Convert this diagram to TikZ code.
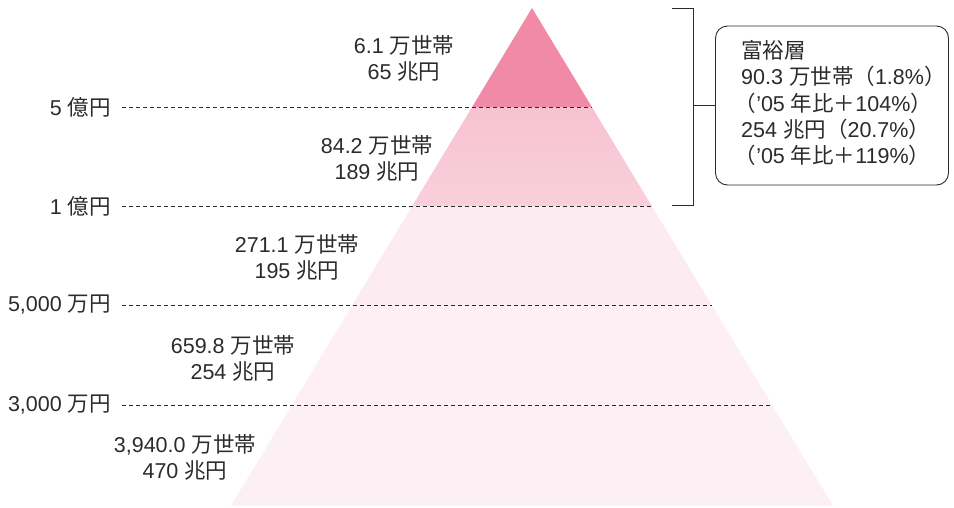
\documentclass[tikz,border=0pt]{standalone}
\usepackage{fontspec}
\setmainfont{Liberation Sans}
\newfontfamily\jp{Noto Sans CJK JP}
\definecolor{txt}{HTML}{2B2B2B}
\definecolor{pkA}{HTML}{F08AA6}
\definecolor{pkBt}{HTML}{F7C2D1}
\definecolor{pkBb}{HTML}{F9CFDB}
\definecolor{pkC}{HTML}{FCEBF0}
\definecolor{pkD}{HTML}{FDEFF3}
\definecolor{pkE}{HTML}{FDF0F4}
\begin{document}
\begin{tikzpicture}[x=1pt,y=-1pt,
  lbl/.style={font=\fontsize{21.5}{26}\selectfont, text=txt, align=center, inner sep=0pt},
  axislbl/.style={font=\fontsize{21.5}{26}\selectfont, text=txt, anchor=east, inner sep=0pt},
  guide/.style={draw=txt, line width=0.8pt, dash pattern=on 4pt off 3pt},
  bracketline/.style={draw=txt, line width=0.9pt},
  infobox/.style={draw=txt, line width=0.9pt, rounded corners=12pt, fill=white,
    minimum width=233pt, minimum height=159pt, inner sep=0pt},
  infotext/.style={font=\fontsize{21.5}{26.3}\selectfont, text=txt, align=left,
    anchor=west, inner sep=0pt}
]
\useasboundingbox (0,0) rectangle (954,507);
% pyramid geometry
\coordinate (apex) at (532,8);
\foreach \n/\yy in {a/107,b/206,c/305,d/405,e/506}{
  \coordinate (L\n) at ({532-0.605*(\yy-8)},\yy);
  \coordinate (R\n) at ({532+0.605*(\yy-8)},\yy);
}
\fill[pkA] (apex) -- (Ra) -- (La) -- cycle;
\shade[top color=pkBt, bottom color=pkBb] (La) -- (Ra) -- (Rb) -- (Lb) -- cycle;
\fill[pkC] (Lb) -- (Rb) -- (Rc) -- (Lc) -- cycle;
\fill[pkD] (Lc) -- (Rc) -- (Rd) -- (Ld) -- cycle;
\fill[pkE] (Ld) -- (Rd) -- (Re) -- (Le) -- cycle;

% axis labels and guides
\node[axislbl] (y5oku) at (111,107) {5 {\jp 億円}};
\node[axislbl] (y1oku) at (111,206) {1 {\jp 億円}};
\node[axislbl] (y5000) at (111,305) {5,000 {\jp 万円}};
\node[axislbl] (y3000) at (111,405) {3,000 {\jp 万円}};
\draw[guide] ([xshift=11pt]y5oku.east) -- (Ra);
\draw[guide] ([xshift=11pt]y1oku.east) -- (Rb);
\draw[guide] ([xshift=11pt]y5000.east) -- (Rc);
\draw[guide] ([xshift=11pt]y3000.east) -- (Rd);

% band labels
\node[lbl] (b1) at (404,58) {6.1 {\jp 万世帯}\\65 {\jp 兆円}};
\node[lbl] (b2) at (377,158) {84.2 {\jp 万世帯}\\189 {\jp 兆円}};
\node[lbl] (b3) at (297,257) {271.1 {\jp 万世帯}\\195 {\jp 兆円}};
\node[lbl] (b4) at (233,358) {659.8 {\jp 万世帯}\\254 {\jp 兆円}};
\node[lbl] (b5) at (185,457) {3,940.0 {\jp 万世帯}\\470 {\jp 兆円}};

% bracket and info box
\coordinate (bt) at (672,8);
\coordinate (btr) at (693,8);
\coordinate (bbr) at (693,205);
\coordinate (bb) at (672,205);
\draw[bracketline] (bt) -- (btr) -- (bbr) -- (bb);
\node[infobox] (box) at (832,105.5) {};
\node[infotext] (boxtext) at (741,103) {{\jp 富裕層}\\
90.3 {\jp 万世帯（}1.8\%{\jp ）}\\
{\jp\hspace{-0.3em}（}’05 {\jp 年比＋}104\%{\jp ）}\\
254 {\jp 兆円（}20.7\%{\jp ）}\\
{\jp\hspace{-0.3em}（}’05 {\jp 年比＋}119\%{\jp ）}};
\draw[bracketline] (box.west) -- (box.west -| btr);
\end{tikzpicture}
\end{document}
